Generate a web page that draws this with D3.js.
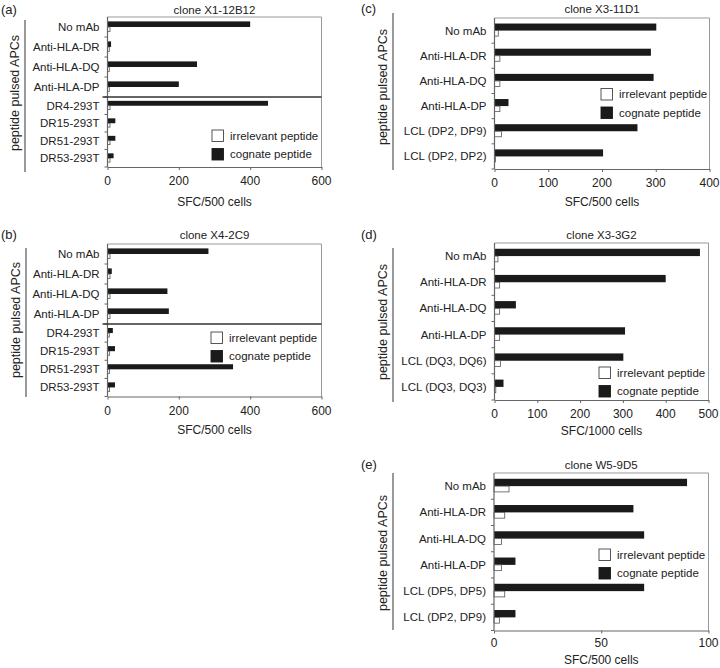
<!DOCTYPE html>
<html><head><meta charset="utf-8">
<script src="https://cdn.jsdelivr.net/npm/d3@7"></script>
<style>
html,body{margin:0;padding:0;background:#fff;}
svg{display:block;font-family:"Liberation Sans",Arial,Helvetica,sans-serif;}
</style></head>
<body><svg id="chart" width="720" height="668"></svg>
<script>
// ---------- DATA ----------
const seriesNames = ["irrelevant peptide", "cognate peptide"];
const yTitle = "peptide pulsed APCs";

// (a) clone X1-12B12
const catsA = ["No mAb","Anti-HLA-DR","Anti-HLA-DQ","Anti-HLA-DP","DR4-293T","DR15-293T","DR51-293T","DR53-293T"];
const cognateA    = [400, 10, 251, 200, 450, 22, 22, 17];
const irrelevantA = [7, 5, 5, 5, 7, 7, 7, 7];
const ticksA = [0, 200, 400, 600];

// (b) clone X4-2C9
const catsB = ["No mAb","Anti-HLA-DR","Anti-HLA-DQ","Anti-HLA-DP","DR4-293T","DR15-293T","DR51-293T","DR53-293T"];
const cognateB    = [283, 12, 168, 172, 15, 21, 352, 21];
const irrelevantB = [7, 7, 7, 7, 5, 6, 6, 6];
const ticksB = [0, 200, 400, 600];

// (c) clone X3-11D1
const catsC = ["No mAb","Anti-HLA-DR","Anti-HLA-DQ","Anti-HLA-DP","LCL (DP2, DP9)","LCL (DP2, DP2)"];
const cognateC    = [301, 291, 296, 26, 266, 202];
const irrelevantC = [7, 10, 10, 10, 13, 2];
const ticksC = [0, 100, 200, 300, 400];

// (d) clone X3-3G2
const catsD = ["No mAb","Anti-HLA-DR","Anti-HLA-DQ","Anti-HLA-DP","LCL (DQ3, DQ6)","LCL (DQ3, DQ3)"];
const cognateD    = [480, 400, 50, 305, 301, 21];
const irrelevantD = [8, 12, 12, 12, 14, 3];
const ticksD = [0, 100, 200, 300, 400, 500];

// (e) clone W5-9D5
const catsE = ["No mAb","Anti-HLA-DR","Anti-HLA-DQ","Anti-HLA-DP","LCL (DP5, DP5)","LCL (DP2, DP9)"];
const cognateE    = [90, 65, 70, 10, 70, 10];
const irrelevantE = [7, 5, 3.5, 3.5, 5, 2.5];
const ticksE = [0, 50, 100];

// ---------- LAYOUT ----------
const panels = [
  {tag:"(a)", title:"clone X1-12B12", cats:catsA, cog:cognateA, irr:irrelevantA, ticks:ticksA, xlabel:"SFC/500 cells",
   L:107.5, R:321.5, T:17, split:4, D:97, B:167, titleY:14, tickY:185, xlabY:206, brX:25, brT:20, brB:172, ytX:19, ytY:93,
   legX:212, legY:130},
  {tag:"(b)", title:"clone X4-2C9", cats:catsB, cog:cognateB, irr:irrelevantB, ticks:ticksB, xlabel:"SFC/500 cells",
   L:107.5, R:321.5, T:244, split:4, D:324, B:396.5, titleY:239, tickY:415, xlabY:434, brX:26, brT:248, brB:397, ytX:20, ytY:320,
   legX:211, legY:332},
  {tag:"(c)", title:"clone X3-11D1", cats:catsC, cog:cognateC, irr:irrelevantC, ticks:ticksC, xlabel:"SFC/500 cells",
   L:494.5, R:709.5, T:18, B:169, titleY:13, tickY:187, xlabY:206, brX:393, brT:13, brB:170, ytX:387, ytY:87,
   legX:601, legY:88.5},
  {tag:"(d)", title:"clone X3-3G2", cats:catsD, cog:cognateD, irr:irrelevantD, ticks:ticksD, xlabel:"SFC/1000 cells",
   L:494.5, R:708.5, T:243, B:400, titleY:239, tickY:417.5, xlabY:435, brX:393, brT:248, brB:402, ytX:387, ytY:322,
   legX:599, legY:367},
  {tag:"(e)", title:"clone W5-9D5", cats:catsE, cog:cognateE, irr:irrelevantE, ticks:ticksE, xlabel:"SFC/500 cells",
   L:494, R:708.5, T:473, B:630.5, titleY:469, tickY:647, xlabY:664, brX:393, brT:473, brB:630, ytX:387, ytY:553,
   legX:599, legY:549}
];

const svg = d3.select("#chart");
const FS = 11.5;
const TXT = "#222";
const AX = "#666";

panels.forEach(p => {
  const g = svg.append("g");
  const x = d3.scaleLinear().domain([p.ticks[0], p.ticks[p.ticks.length-1]]).range([p.L, p.R]);

  // y scales (two sub-blocks when split)
  const groups = p.split
    ? [{cats:p.cats.slice(0,p.split), r:[p.T,p.D]}, {cats:p.cats.slice(p.split), r:[p.D,p.B]}]
    : [{cats:p.cats, r:[p.T,p.B]}];

  // frame (top & right)
  g.append("path").attr("d", `M${p.L},${p.T}H${p.R}V${p.B}`).attr("fill","none").attr("stroke","#999").attr("stroke-width",1);

  groups.forEach(gr => {
    const y = d3.scaleBand().domain(gr.cats).range(gr.r);
    const bw = y.bandwidth();
    const rows = gr.cats.map(c => {
      const i = p.cats.indexOf(c);
      return {c, cog:p.cog[i], irr:p.irr[i]};
    });
    // cognate bars (black)
    g.selectAll(null).data(rows).enter().append("rect")
      .attr("x", x(0)).attr("y", d => y(d.c) + bw*0.22)
      .attr("width", d => x(d.cog) - x(0)).attr("height", bw*0.28)
      .attr("fill","#1a1a1a");
    // irrelevant bars (white)
    g.selectAll(null).data(rows).enter().append("rect")
      .attr("x", x(0)).attr("y", d => y(d.c) + bw*0.50)
      .attr("width", d => Math.max(0.5, x(d.irr) - x(0))).attr("height", bw*0.22)
      .attr("fill","#fff").attr("stroke","#555").attr("stroke-width",0.8);
    // category labels
    g.selectAll(null).data(rows).enter().append("text")
      .attr("x", p.L - 8).attr("y", d => y(d.c) + bw*0.5).attr("dy","0.35em")
      .attr("text-anchor","end").attr("font-size",FS).attr("fill",TXT).text(d => d.c);
    // left ticks at band boundaries
    g.selectAll(null).data(rows).enter().append("line")
      .attr("x1", p.L - 3).attr("x2", p.L).attr("y1", d => y(d.c) + bw).attr("y2", d => y(d.c) + bw)
      .attr("stroke", AX);
  });

  // left axis line
  g.append("line").attr("x1",p.L).attr("x2",p.L).attr("y1",p.T).attr("y2",p.B).attr("stroke",AX).attr("stroke-width",1.2);

  // divider
  if (p.split) {
    g.append("line").attr("x1",p.L-5).attr("x2",p.R).attr("y1",p.D).attr("y2",p.D).attr("stroke","#333").attr("stroke-width",1.4);
  }

  // bottom axis
  const xa = g.append("g").attr("transform",`translate(0,${p.B})`)
    .call(d3.axisBottom(x).tickValues(p.ticks).tickSize(3).tickSizeOuter(0).tickFormat(d3.format("d")));
  xa.select(".domain").attr("stroke",AX).attr("stroke-width",1.2);
  xa.selectAll(".tick line").attr("stroke",AX);
  xa.selectAll(".tick text").remove();
  g.selectAll(null).data(p.ticks).enter().append("text")
    .attr("x", d => x(d)).attr("y", p.tickY).attr("text-anchor","middle")
    .attr("font-size",12).attr("fill",TXT).text(d => d);

  // x title
  g.append("text").attr("x",(p.L+p.R)/2).attr("y",p.xlabY).attr("text-anchor","middle")
    .attr("font-size",12).attr("fill",TXT).text(p.xlabel);

  // panel title
  g.append("text").attr("x",(p.L+p.R)/2).attr("y",p.titleY).attr("text-anchor","middle")
    .attr("font-size",FS).attr("fill",TXT).text(p.title);

  // panel tag
  g.append("text").attr("x", p.L < 300 ? 1 : 361).attr("y",p.titleY).attr("font-size",13).attr("fill",TXT).text(p.tag);

  // bracket line + y title
  g.append("line").attr("x1",p.brX).attr("x2",p.brX).attr("y1",p.brT).attr("y2",p.brB).attr("stroke","#555").attr("stroke-width",1.2);
  g.append("text").attr("transform",`translate(${p.ytX},${p.ytY}) rotate(-90)`).attr("text-anchor","middle")
    .attr("font-size",12.5).attr("fill",TXT).text(yTitle);

  // legend
  const leg = g.append("g").attr("transform",`translate(${p.legX},${p.legY})`);
  seriesNames.forEach((s,i) => {
    leg.append("rect").attr("x",0).attr("y",i*18.5).attr("width",11.5).attr("height",11.5)
      .attr("fill", i===0 ? "#fff" : "#1a1a1a").attr("stroke", i===0 ? "#444" : "#1a1a1a").attr("stroke-width",0.9);
    leg.append("text").attr("x",18).attr("y",i*18.5+5.75).attr("dy","0.35em")
      .attr("font-size",FS).attr("fill",TXT).text(s);
  });
});
</script></body></html>
